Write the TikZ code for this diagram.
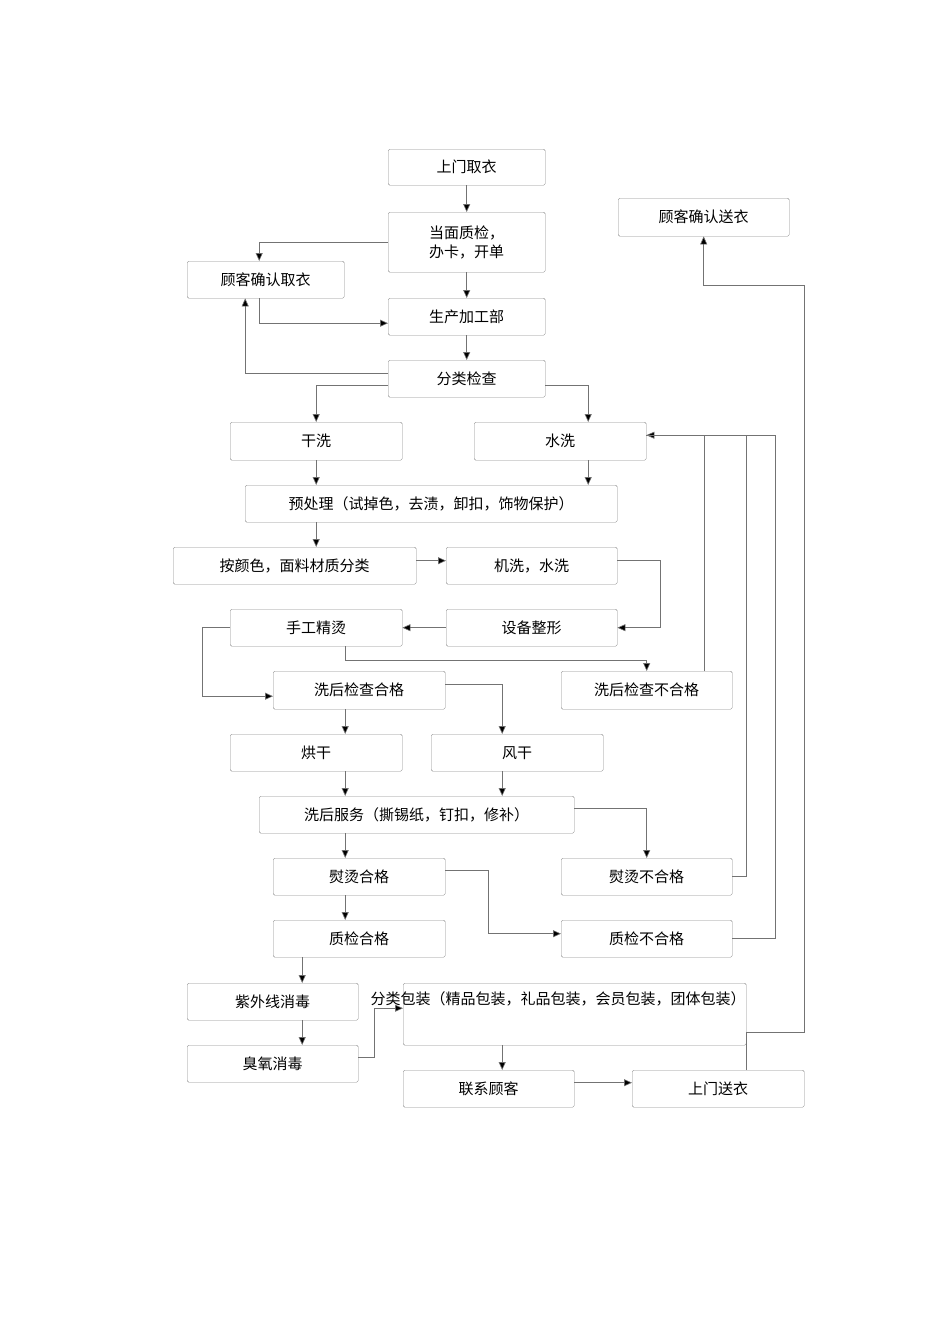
\documentclass[tikz,border=0pt]{standalone}
\usepackage{fontspec}
\newfontfamily\cjk{Noto Sans CJK SC}
\usetikzlibrary{arrows.meta,calc}
\begin{document}
\begin{tikzpicture}[x=1pt,y=-1pt,
  box/.style={draw=black!45,rounded corners=1.5pt,inner sep=0pt,anchor=north west,align=center,font=\cjk\fontsize{15}{19}\selectfont},
  ln/.style={draw=black!55,line width=0.6pt},
  ar/.style={ln,-{Triangle[length=8pt,width=7pt,fill=black]}}]
\useasboundingbox[fill=white] (0,0) rectangle (950,1344);
\newcommand\bx[6]{\node[box,minimum width=#4pt,minimum height=#5pt] (#1) at (#2,#3) {#6};}
\bx{n1}{388}{149}{157}{36}{上门取衣}
\bx{n2}{388}{212}{157}{60}{当面质检，\\办卡，开单}
\bx{n3}{618}{198}{171}{38}{顾客确认送衣}
\bx{n4}{187}{261}{157}{37}{顾客确认取衣}
\bx{n5}{388}{298}{157}{37}{生产加工部}
\bx{n6}{388}{360}{157}{37}{分类检查}
\bx{n7}{230}{422}{172}{38}{干洗}
\bx{n8}{474}{422}{172}{38}{水洗}
\bx{n9}{245}{485}{372}{37}{预处理（试掉色，去渍，卸扣，饰物保护）}
\bx{n10}{173}{547}{243}{37}{按颜色，面料材质分类}
\bx{n11}{446}{547}{171}{37}{机洗，水洗}
\bx{n12}{230}{609}{172}{37}{手工精烫}
\bx{n13}{446}{609}{171}{37}{设备整形}
\bx{n14}{273}{671}{172}{38}{洗后检查合格}
\bx{n15}{561}{671}{171}{38}{洗后检查不合格}
\bx{n16}{230}{734}{172}{37}{烘干}
\bx{n17}{431}{734}{172}{37}{风干}
\bx{n18}{259}{796}{315}{37}{洗后服务（撕锡纸，钉扣，修补）}
\bx{n19}{273}{858}{172}{37}{熨烫合格}
\bx{n20}{561}{858}{171}{37}{熨烫不合格}
\bx{n21}{273}{920}{172}{37}{质检合格}
\bx{n22}{561}{920}{171}{37}{质检不合格}
\bx{n23}{187}{983}{171}{37}{紫外线消毒}
\bx{n24}{403}{983}{343}{62}{}
\node[font=\cjk\fontsize{15}{19}\selectfont] (t24) at (558,999) {分类包装（精品包装，礼品包装，会员包装，团体包装）};
\bx{n25}{187}{1045}{171}{37}{臭氧消毒}
\bx{n26}{403}{1070}{171}{37}{联系顾客}
\bx{n27}{632}{1070}{172}{37}{上门送衣}
\coordinate (c1) at (804,1032);
\coordinate (c2) at (804,285);
\draw[ar] (n1.south) -- (n2.north);
\draw[ar] (n2.west) -| ([xshift=-6.5pt]n4.north);
\draw[ar] (n2.south) -- (n5.north);
\draw[ar] ([xshift=-6.5pt]n4.south) |- ([yshift=-6.5pt]n5.west);
\draw[ar] (n5.south) -- (n6.north);
\draw[ar] ([yshift=5pt]n6.west) -| ([xshift=-20.5pt]n4.south);
\draw[ar] ([yshift=-6.5pt]n6.west) -| (n7.north);
\draw[ar] ([yshift=-6.5pt]n6.east) -| ([xshift=28pt]n8.north);
\draw[ar] (n7.south) -- (n7.south |- n9.north);
\draw[ar] ([xshift=28pt]n8.south) -- ([xshift=28pt]n8.south |- n9.north);
\draw[ar] (n9.south -| n7.south) -- (n10.north -| n7.south);
\draw[ar] ([yshift=5pt]n10.east) -- ([yshift=5pt]n11.west);
\draw[ar] ([yshift=5pt]n11.east) -- ++(43,0) |- (n13.east);
\draw[ar] (n13.west) -- (n12.east);
\draw[ar] (n12.west) -- ++(-28,0) |- ([yshift=-6pt]n14.west);
\draw[ar] ([xshift=29pt]n12.south) -- ++(0,14) -| (n15.north);
\draw[ar] ([xshift=57.5pt]n15.north) |- ([yshift=6pt]n8.east);
\draw[ln] (n20.east) -- ++(14,0) |- ([yshift=6pt]n8.east);
\draw[ln] (n22.east) -- ++(43,0) |- ([yshift=6pt]n8.east);
\draw[ar] ([xshift=-14pt]n14.south) -- ([xshift=-14pt]n14.south |- n16.north);
\draw[ar] ([yshift=6pt]n14.east) -| ([xshift=-15pt]n17.north);
\draw[ar] ([xshift=29pt]n16.south) -- ([xshift=29pt]n16.south |- n18.north);
\draw[ar] ([xshift=-15pt]n17.south) -- ([xshift=-15pt]n17.south |- n18.north);
\draw[ar] ([yshift=6.5pt]n18.east) -| (n20.north);
\draw[ar] ([xshift=-14pt]n19.north |- n18.south) -- ([xshift=-14pt]n19.north);
\draw[ar] ([yshift=6pt]n19.east) -- ++(43,0) |- ([yshift=5pt]n22.west);
\draw[ar] ([xshift=-14pt]n19.south) -- ([xshift=-14pt]n21.north);
\draw[ar] ([xshift=29.5pt]n23.north |- n21.south) -- ([xshift=29.5pt]n23.north);
\draw[ar] ([xshift=29.5pt]n23.south) -- ([xshift=29.5pt]n25.north);
\draw[ar] ([yshift=6pt]n25.east) -- ++(16,0) |- ([yshift=6pt]n24.west);
\draw[ar] ([xshift=13.5pt]n26.north |- n24.south) -- ([xshift=13.5pt]n26.north);
\draw[ar] ([yshift=6pt]n26.east) -- ([yshift=6pt]n27.west);
\draw[ar] ([xshift=28pt]n27.north) |- (c1) -- (c2) -| (n3.south);
\end{tikzpicture}
\end{document}
